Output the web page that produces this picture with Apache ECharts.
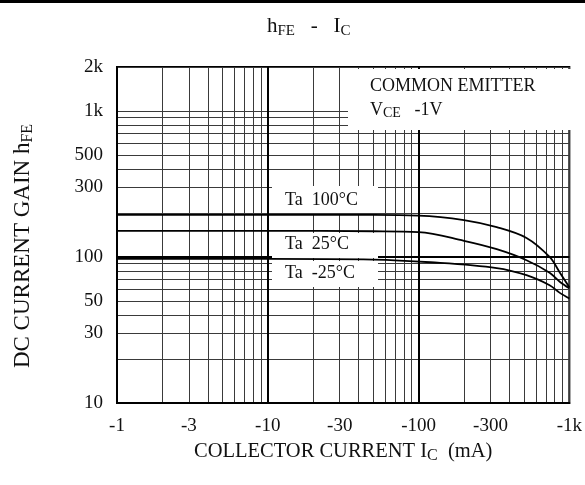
<!DOCTYPE html>
<html><head><meta charset="utf-8">
<script src="https://cdn.jsdelivr.net/npm/echarts@6/dist/echarts.min.js"></script>
<style>html,body{margin:0;padding:0;background:#fff}#c{width:585px;height:485px}</style>
</head><body><div id="c"></div>
<script>
// ---- data ----
const xGridValues = [1,2,3,4,5,6,7,8,9,10,20,30,40,50,60,70,80,90,100,200,300,400,500,600,700,800,900,1000];
const yGridValues = [10,20,30,40,50,60,70,80,90,100,200,300,400,500,600,700,800,900,1000,2000];
const xTickLabels = [1,3,10,30,100,300,1000];
const yTickLabels = [10,30,50,100,300,500,1000,2000];
const decadeX = [10,100];
const decadeY = [100];

const ic100  = [1,10,50,100,200,330,520,740,860,1000];
const hfe100 = [194,194,194,192,179,160,135,100,79,62];
const ic25   = [1,10,50,100,200,330,520,740,860,1000];
const hfe25  = [151,151,150,148,129,113,95,78,68,61];
const icM25  = [1,10,50,120,330,520,740,860,1000];
const hfeM25 = [97,97,96,92,84,75,64,57,52];

const seriesNames = ['Ta 100°C','Ta 25°C','Ta -25°C'];

// ---- chart ----
const FONT = 'Liberation Serif';
const pairs = (xs, ys) => xs.map((x, i) => [x, ys[i]]);
const kfmt = v => { v = Math.round(v); return v >= 1000 ? (v/1000) + 'k' : String(v); };

const chart = echarts.init(document.getElementById('c'), null, {renderer:'canvas'});

const curveStyle = {color:'#000', width:1.8};
function curve(name, xs, ys){
  return {name, type:'line', data:pairs(xs, ys), smooth:0.35, showSymbol:false, symbol:'none',
    lineStyle:curveStyle, itemStyle:{color:'#000'}, z:4, silent:true, clip:true};
}

const option = {
  backgroundColor:'#fff',
  animation:false,
  title:{
    text:'{a|h}{b|FE}{a|   -   I}{b|C}',
    left:262, top:8,
    textStyle:{fontWeight:'normal', rich:{
      a:{fontFamily:FONT, fontSize:21, fontWeight:'normal', color:'#111', lineHeight:26},
      b:{fontFamily:FONT, fontSize:15, fontWeight:'normal', color:'#111', lineHeight:15, verticalAlign:'bottom'}
    }}
  },
  grid:{left:117, right:12, top:67, bottom:82, show:true, borderColor:'#000', borderWidth:2, backgroundColor:'transparent'},
  xAxis:{
    type:'log', logBase:10, min:1, max:1000,
    axisLine:{show:true, lineStyle:{color:'#000', width:2}},
    axisTick:{show:false, customValues:xGridValues},
    axisLabel:{customValues:xTickLabels, formatter:v => '-' + kfmt(v), color:'#111', fontFamily:FONT, fontSize:19, margin:14},
    splitLine:{show:true, lineStyle:{color:'#3a3a3a', width:1}},
    name:'{a|COLLECTOR CURRENT I}{b|C}{a|  (mA)}',
    nameLocation:'middle', nameGap:37,
    nameTextStyle:{rich:{
      a:{fontFamily:FONT, fontSize:20.5, color:'#111', lineHeight:24},
      b:{fontFamily:FONT, fontSize:16, color:'#111', lineHeight:16, verticalAlign:'bottom'}
    }}
  },
  yAxis:{
    type:'log', logBase:10, min:10, max:2000,
    axisLine:{show:true, lineStyle:{color:'#000', width:2}},
    axisTick:{show:false, customValues:yGridValues},
    axisLabel:{customValues:yTickLabels, formatter:kfmt, color:'#111', fontFamily:FONT, fontSize:19, margin:14},
    splitLine:{show:true, lineStyle:{color:'#3a3a3a', width:1}},
    name:'{a|DC CURRENT GAIN h}{b|FE}',
    nameLocation:'middle', nameRotate:90, nameGap:81,
    nameTextStyle:{padding:[0,0,0,-22], rich:{
      a:{fontFamily:FONT, fontSize:23, color:'#111', lineHeight:26},
      b:{fontFamily:FONT, fontSize:16, color:'#111', lineHeight:16, verticalAlign:'bottom'}
    }}
  },
  series:[
    {
      name:'decades', type:'line', data:[], silent:true, z:1,
      markLine:{silent:true, symbol:'none', label:{show:false}, z:1,
        lineStyle:{color:'#000', width:2, type:'solid'},
        data:[...decadeX.map(v => ({xAxis:v})), ...decadeY.map(v => ({yAxis:v}))]}
    },
    curve(seriesNames[0], ic100, hfe100),
    curve(seriesNames[1], ic25, hfe25),
    curve(seriesNames[2], icM25, hfeM25)
  ],
  graphic:{elements:[
    {type:'rect', shape:{x:0, y:0, width:585, height:3}, style:{fill:'#000'}, z:60},
    // COMMON EMITTER box
    {type:'rect', shape:{x:348, y:69, width:223, height:61}, style:{fill:'#fff'}, z:50},
    {type:'text', x:370, y:86, style:{text:'COMMON EMITTER', font:'18px "Liberation Serif"', fill:'#111', verticalAlign:'middle'}, z:51},
    {type:'text', x:370, y:110, style:{text:'{a|V}{b|CE}{a|   -1V}', verticalAlign:'middle',
      rich:{a:{fontFamily:FONT, fontSize:18, fill:'#111', lineHeight:20},
            b:{fontFamily:FONT, fontSize:14, fill:'#111', lineHeight:14, verticalAlign:'bottom'}}}, z:51},
    // curve label boxes
    {type:'rect', shape:{x:272, y:186, width:106, height:27}, style:{fill:'#fff'}, z:50},
    {type:'text', x:285, y:200, style:{text:'Ta  100°C', font:'18px "Liberation Serif"', fill:'#111', verticalAlign:'middle'}, z:51},
    {type:'rect', shape:{x:272, y:233, width:106, height:25}, style:{fill:'#fff'}, z:50},
    {type:'text', x:285, y:244, style:{text:'Ta  25°C', font:'18px "Liberation Serif"', fill:'#111', verticalAlign:'middle'}, z:51},
    {type:'rect', shape:{x:272, y:261, width:106, height:26}, style:{fill:'#fff'}, z:50},
    {type:'text', x:285, y:273, style:{text:'Ta  -25°C', font:'18px "Liberation Serif"', fill:'#111', verticalAlign:'middle'}, z:51}
  ]}
};
chart.setOption(option);
</script>
</body></html>
